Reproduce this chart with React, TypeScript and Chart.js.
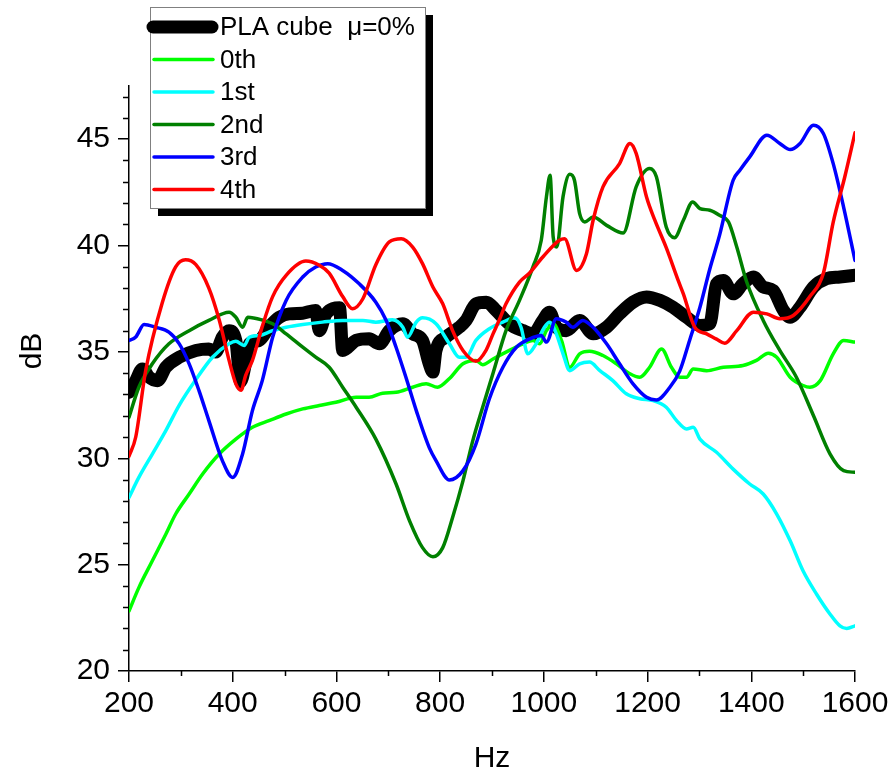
import React, { useEffect, useRef } from "react";
import { Chart, registerables } from "chart.js";

Chart.register(...registerables);

const FONT = "'Liberation Sans', Arial, Helvetica, sans-serif";

// ---- data (Hz, dB) ----
const HZ_PLA = [200,213,226,239,255,271,297,329,354,367,380,393,406,415,425,432,451,470,490,509,535,560,567,580,606,612,638,663,683,702,728,747,766,779,786,792,811,837,850,869,889,908,934,960,979,998,1011,1024,1043,1069,1095,1121,1146,1172,1198,1224,1249,1275,1301,1320,1333,1346,1365,1384,1404,1423,1442,1462,1475,1494,1520,1545,1571,1600];
const DB_PLA = [33.1,33.65,34.2,33.81,33.65,34.28,34.75,35.07,35.14,34.99,35.69,36.0,35.54,33.6,34.5,35.38,35.54,36.16,36.63,36.79,36.82,36.95,36.0,36.79,37.07,35.07,35.54,35.62,35.38,36.0,36.32,35.85,35.54,34.44,34.05,35.07,35.69,36.16,36.48,37.26,37.34,36.95,36.3,36.0,35.85,36.48,36.87,36.16,36.0,36.48,35.85,36.16,36.79,37.34,37.58,37.42,37.1,36.63,36.24,36.32,38.2,38.36,37.73,38.2,38.52,38.05,37.89,36.95,36.63,37.1,38.05,38.44,38.52,38.6];

const HZ_0TH = [200,219,245,271,290,316,342,374,406,438,470,503,535,567,599,638,663,689,715,747,773,795,818,844,869,882,902,927,960,979,992,1005,1018,1034,1050,1069,1088,1114,1140,1166,1185,1204,1227,1246,1262,1275,1288,1314,1346,1384,1410,1433,1449,1475,1500,1513,1533,1558,1578,1600];
const DB_0TH = [22.82,23.92,25.18,26.43,27.38,28.32,29.26,30.2,30.9,31.46,31.77,32.08,32.32,32.48,32.63,32.87,32.87,33.06,33.1,33.34,33.5,33.34,33.75,34.44,34.6,34.4,34.67,34.99,35.38,35.54,35.38,36.0,36.32,35.54,34.28,34.91,35.03,34.83,34.44,33.97,33.81,34.28,35.14,34.28,33.81,33.81,34.2,34.12,34.28,34.36,34.6,34.94,34.75,33.81,33.42,33.34,33.65,34.91,35.54,35.46];

const HZ_1ST = [200,219,245,271,297,329,361,393,406,422,432,451,477,503,535,573,612,651,676,708,728,737,754,766,792,818,837,850,869,895,921,944,956,969,985,1001,1011,1024,1037,1050,1069,1088,1108,1133,1159,1185,1211,1236,1256,1275,1288,1301,1333,1365,1397,1423,1449,1475,1500,1526,1552,1571,1584,1600];
const DB_1ST = [28.16,29.1,30.2,31.3,32.5,33.7,34.75,35.38,35.5,35.3,35.69,35.77,36.0,36.16,36.29,36.4,36.48,36.48,36.4,36.51,36.16,35.69,36.4,36.6,36.32,35.38,34.75,34.75,35.54,36.09,36.4,36.6,36.16,34.91,35.38,36.16,36.4,35.85,34.91,34.12,34.44,34.52,34.12,33.65,33.03,32.8,32.71,32.4,31.77,31.38,31.46,30.9,30.28,29.49,28.79,28.32,27.38,26.12,24.7,23.61,22.67,22.12,22.0,22.12];

const HZ_2ND = [200,219,245,277,316,354,393,406,419,429,457,477,503,535,560,586,612,638,676,715,741,766,786,805,824,844,863,882,902,927,953,979,995,1005,1012,1018,1025,1037,1050,1059,1069,1079,1095,1121,1153,1178,1204,1217,1236,1252,1269,1287,1301,1320,1339,1356,1372,1391,1423,1455,1487,1520,1552,1578,1600];
const DB_2ND = [31.93,33.34,34.44,35.38,36.0,36.48,36.87,36.63,36.16,36.63,36.5,36.32,35.85,35.22,34.75,34.28,33.34,32.4,30.9,28.79,27.06,25.8,25.37,25.8,27.22,28.94,30.83,32.4,34.0,36.0,37.42,39.0,40.25,42.3,43.3,40.4,39.93,42.3,43.35,43.07,41.5,41.11,41.34,40.95,40.59,42.76,43.62,43.23,40.87,40.37,41.19,42.05,41.74,41.66,41.42,41.11,39.93,38.3,36.48,35.07,33.81,32.0,30.2,29.42,29.34];

const HZ_3RD = [200,213,229,251,277,297,316,335,354,380,400,419,438,457,477,503,535,560,583,612,644,676,696,715,734,754,779,792,818,844,869,895,921,947,972,995,1005,1024,1043,1056,1075,1095,1121,1146,1172,1198,1217,1243,1262,1281,1301,1320,1339,1365,1378,1397,1430,1455,1475,1494,1520,1539,1558,1578,1600];
const DB_3RD = [35.54,35.7,36.29,36.16,35.93,35.38,34.44,33.18,31.77,29.89,29.1,30.2,32.24,33.65,35.69,37.42,38.52,38.99,39.15,38.83,38.2,37.34,36.48,35.22,33.81,32.24,30.5,29.89,28.98,29.42,30.67,32.8,34.28,35.22,35.6,35.77,35.46,36.56,36.4,36.16,36.48,36.16,35.38,34.44,33.5,32.87,32.74,33.34,34.1,35.54,37.1,38.9,40.5,43.07,43.54,44.17,45.19,44.8,44.51,44.8,45.66,45.27,43.85,41.81,39.3];

const HZ_4TH = [200,213,232,264,290,309,329,354,374,393,406,416,425,438,457,477,503,541,567,586,612,631,651,676,702,725,747,766,786,805,824,844,869,889,902,914,927,953,972,998,1030,1040,1063,1082,1095,1114,1146,1166,1178,1198,1214,1236,1259,1269,1291,1314,1333,1349,1372,1404,1430,1455,1481,1513,1539,1558,1580,1600];
const DB_4TH = [30.1,31.0,34.1,37.3,39.0,39.33,39.1,38.0,36.5,34.6,33.5,33.2,33.9,34.6,36.2,37.6,38.6,39.27,39.07,38.7,37.6,37.03,37.5,39.1,40.17,40.32,39.93,39.15,38.05,37.26,36.0,35.07,34.56,35.1,35.85,36.5,37.26,38.28,38.7,39.46,40.25,40.32,38.83,39.6,41.19,42.76,43.85,44.8,44.33,42.28,41.19,39.9,38.36,37.73,36.16,35.85,35.6,35.41,36.0,36.87,36.79,36.56,36.71,37.6,38.7,41.1,43.2,45.3];

const LABELS = ["PLA cube  \u03bc=0%", "0th", "1st", "2nd", "3rd", "4th"];
const COLORS = ["#000000", "#00ff00", "#00ffff", "#008000", "#0000ff", "#ff0000"];

const X_MIN = 200, X_MAX = 1600, X_STEP = 200;
const Y_MIN = 20, Y_MAX = 47.5, Y_STEP = 5;

const pts = (xs: number[], ys: number[]) => xs.map((x, i) => ({ x, y: ys[i] }));

const decorPlugin = {
  id: "decor",
  afterDraw(chart: any) {
    const { ctx, chartArea } = chart;
    const xs = chart.scales.x;
    const ys = chart.scales.y;
    ctx.save();
    // minor ticks
    ctx.strokeStyle = "#000";
    ctx.lineWidth = 1.5;
    ctx.beginPath();
    for (let v = Y_MIN + 1; v < Y_MAX; v += 1) {
      if (v % Y_STEP === 0) continue;
      const py = Math.round(ys.getPixelForValue(v)) + 0.5;
      ctx.moveTo(chartArea.left, py);
      ctx.lineTo(chartArea.left - 6, py);
    }
    for (let v = X_MIN + X_STEP / 2; v < X_MAX; v += X_STEP) {
      const px = Math.round(xs.getPixelForValue(v)) + 0.5;
      ctx.moveTo(px, chartArea.bottom);
      ctx.lineTo(px, chartArea.bottom + 5);
    }
    ctx.stroke();

    // axis titles
    ctx.fillStyle = "#000";
    ctx.font = `30px ${FONT}`;
    ctx.textAlign = "center";
    ctx.textBaseline = "alphabetic";
    ctx.fillText("Hz", (chartArea.left + chartArea.right) / 2, 767);
    ctx.save();
    ctx.translate(41, 351);
    ctx.rotate(-Math.PI / 2);
    ctx.fillText("dB", 0, 0);
    ctx.restore();

    // legend with shadow
    const bx = 150, by = 7, bw = 275, bh = 201;
    ctx.fillStyle = "#000";
    ctx.fillRect(bx + 8, by + 8, bw, bh);
    ctx.fillStyle = "#fff";
    ctx.fillRect(bx, by, bw, bh);
    ctx.strokeStyle = "#808080";
    ctx.lineWidth = 1;
    ctx.strokeRect(bx + 0.5, by + 0.5, bw, bh);
    const ds = chart.data.datasets;
    ctx.font = `26px ${FONT}`;
    ctx.textAlign = "left";
    ctx.textBaseline = "middle";
    ds.forEach((d: any, i: number) => {
      const cy = 27 + i * 32.5;
      ctx.beginPath();
      ctx.strokeStyle = d.borderColor;
      ctx.lineWidth = d.borderWidth;
      ctx.lineCap = "round";
      ctx.moveTo(i === 0 ? 153 : 154, cy);
      ctx.lineTo(i === 0 ? 212 : 213, cy);
      ctx.stroke();
      ctx.fillStyle = "#000";
      ctx.fillText(d.label, 220, cy + 1);
    });
    ctx.restore();
  },
};

export default function App() {
  const ref = useRef<HTMLCanvasElement | null>(null);
  useEffect(() => {
    document.body.style.margin = "0";
    const canvas = ref.current;
    if (!canvas) return;
    const series = [
      pts(HZ_PLA, DB_PLA),
      pts(HZ_0TH, DB_0TH),
      pts(HZ_1ST, DB_1ST),
      pts(HZ_2ND, DB_2ND),
      pts(HZ_3RD, DB_3RD),
      pts(HZ_4TH, DB_4TH),
    ];
    const chart = new Chart(canvas, {
      type: "line",
      data: {
        datasets: series.map((data, i) => ({
          label: LABELS[i],
          data,
          borderColor: COLORS[i],
          backgroundColor: COLORS[i],
          borderWidth: i === 0 ? 13 : 3.5,
          pointRadius: 0,
          fill: false,
          cubicInterpolationMode: "monotone" as const,
          borderCapStyle: "round" as const,
          borderJoinStyle: "round" as const,
          order: i === 0 ? 10 : 6 - i,
        })),
      },
      options: {
        responsive: false,
        animation: false,
        devicePixelRatio: 1,
        parsing: false as any,
        layout: { padding: { left: 0, right: 39, top: 86, bottom: 0 } },
        plugins: { legend: { display: false }, tooltip: { enabled: false }, title: { display: false } },
        scales: {
          x: {
            type: "linear",
            min: X_MIN,
            max: X_MAX,
            bounds: "data",
            ticks: {
              stepSize: X_STEP,
              autoSkip: false,
              maxRotation: 0,
              color: "#000",
              padding: 4,
              font: { family: FONT, size: 30 },
              callback: (v: any) => String(v),
            },
            grid: { drawOnChartArea: false, drawTicks: true, tickLength: 11, color: "#000", lineWidth: 1.5 },
            border: { display: true, color: "#000", width: 1.5 },
            afterFit: (s: any) => { s.height = 103; },
          },
          y: {
            type: "linear",
            min: Y_MIN,
            max: Y_MAX,
            bounds: "data",
            ticks: {
              stepSize: Y_STEP,
              includeBounds: false,
              color: "#000",
              padding: 8,
              font: { family: FONT, size: 30 },
              callback: (v: any) => String(v),
            },
            grid: { drawOnChartArea: false, drawTicks: true, tickLength: 11, color: "#000", lineWidth: 1.5 },
            border: { display: true, color: "#000", width: 1.5 },
            afterFit: (s: any) => { s.width = 129; },
          },
        },
      },
      plugins: [decorPlugin],
    } as any);
    return () => chart.destroy();
  }, []);
  return (
    <div style={{ width: 894, height: 774, position: "relative", overflow: "hidden", background: "#fff" }}>
      <canvas ref={ref} width={894} height={774} style={{ display: "block" }} />
    </div>
  );
}
